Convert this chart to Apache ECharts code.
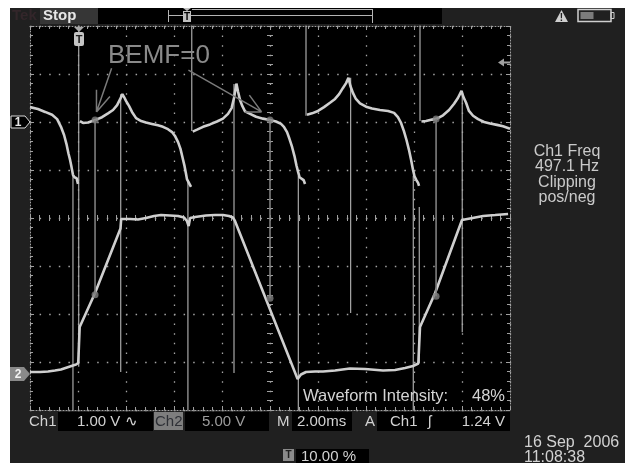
<!DOCTYPE html>
<html><head><meta charset="utf-8">
<script src="https://cdn.jsdelivr.net/npm/echarts@6/dist/echarts.min.js"></script>
<style>html,body{margin:0;padding:0;background:#fff}#c{width:625px;height:463px}</style>
</head><body><div id="c"></div>
<script>
// ---- data (time in ms, Ch1 in V, Ch2 in V, annotations in screen divisions) ----
const ch1Points = [[0.00,0.31],[0.33,0.27],[0.63,0.21],[0.92,0.15],[1.13,0.06],[1.29,-0.10],[1.42,-0.27],[1.52,-0.46],[1.60,-0.65],[1.67,-0.79],[1.73,-0.94],[1.79,-1.10],[1.85,-1.15],[1.94,-1.17],[2.00,-1.29],[2.04,'-'],[2.08,0.02],[2.21,-0.02],[2.42,-0.01],[2.71,0.04],[3.00,0.10],[3.25,0.18],[3.46,0.25],[3.63,0.35],[3.75,0.47],[3.85,0.58],[3.92,0.52],[4.00,0.44],[4.13,0.33],[4.25,0.21],[4.42,0.08],[4.63,0.02],[4.83,-0.01],[5.08,-0.04],[5.33,-0.07],[5.54,-0.10],[5.75,-0.15],[5.92,-0.21],[6.04,-0.29],[6.17,-0.42],[6.27,-0.56],[6.35,-0.73],[6.44,-0.92],[6.50,-1.08],[6.54,-1.19],[6.60,-1.25],[6.67,-1.27],[6.71,-1.35],[6.74,'-'],[6.78,-0.20],[6.96,-0.16],[7.21,-0.10],[7.50,-0.05],[7.79,0.01],[8.04,0.07],[8.25,0.17],[8.40,0.29],[8.50,0.50],[8.60,0.80],[8.67,0.63],[8.75,0.46],[8.85,0.33],[8.96,0.22],[9.17,0.17],[9.42,0.11],[9.71,0.07],[10.00,0.04],[10.25,0.01],[10.46,-0.04],[10.58,-0.10],[10.71,-0.21],[10.81,-0.35],[10.92,-0.52],[11.02,-0.71],[11.10,-0.90],[11.17,-1.04],[11.23,-1.15],[11.31,-1.17],[11.40,-1.21],[11.46,-1.29],[11.50,'-'],[11.54,0.15],[11.75,0.18],[12.00,0.23],[12.25,0.31],[12.50,0.40],[12.71,0.48],[12.88,0.58],[13.04,0.71],[13.17,0.81],[13.27,0.92],[13.35,0.75],[13.46,0.60],[13.58,0.48],[13.75,0.39],[14.00,0.32],[14.25,0.28],[14.58,0.25],[14.92,0.23],[15.17,0.19],[15.33,0.10],[15.46,-0.02],[15.58,-0.19],[15.69,-0.38],[15.79,-0.58],[15.88,-0.79],[15.96,-1.00],[16.02,-1.13],[16.10,-1.21],[16.17,-1.27],[16.21,-1.33],[16.25,'-'],[16.31,0.01],[16.50,0.02],[16.75,0.05],[16.96,0.07],[17.21,0.14],[17.46,0.25],[17.67,0.38],[17.83,0.50],[17.98,0.65],[18.06,0.52],[18.17,0.40],[18.29,0.23],[18.46,0.13],[18.67,0.06],[18.92,0.00],[19.17,-0.03],[19.46,-0.06],[19.71,-0.09],[20.00,-0.14]];
const ch2Points = [[0.00,0.21],[0.42,0.21],[0.75,0.26],[1.04,0.36],[1.29,0.47],[1.54,0.68],[1.79,0.89],[1.92,0.99],[2.01,1.15],[2.07,4.90],[2.15,5.10],[2.71,8.44],[3.77,15.16],[3.80,16.15],[3.88,16.20],[4.17,16.15],[4.50,16.09],[4.83,16.25],[5.17,16.46],[5.46,16.56],[5.83,16.51],[6.17,16.46],[6.42,16.30],[6.54,15.94],[6.61,15.42],[6.67,16.25],[6.88,16.35],[7.33,16.51],[7.71,16.56],[8.04,16.56],[8.29,16.46],[8.46,16.30],[8.54,15.94],[11.15,-0.52],[11.21,-0.42],[11.29,-0.05],[11.50,0.21],[11.88,0.26],[12.21,0.26],[12.71,0.36],[13.33,0.57],[13.96,0.52],[14.71,0.36],[15.21,0.42],[15.63,0.63],[15.96,0.83],[16.18,1.09],[16.25,4.90],[16.33,5.10],[16.88,8.44],[18.00,16.04],[18.08,16.20],[18.33,16.20],[18.88,16.46],[19.38,16.56],[19.92,16.67]];
const spikeTimes   = [1.79, 2.03, 3.78, 6.58, 6.74, 8.50, 11.18, 11.50, 13.36, 15.97, 16.25, 16.22, 18.01];
const spikeTops    = [0.90, 4.50, 2.58, 0.79, 4.50, 2.79, 0.88, 4.50, 2.92, 0.88, 4.50, 0.23, 2.63];
const spikeBottoms = [-4.50, -3.10, -3.21, -4.50, 1.81, -3.23, -4.50, 2.13, -1.98, -4.50, 2.02, -3.02, -2.38];
const cursorTimes   = [2.71, 10.00, 16.92];
const cursorTops    = [2.04, 2.04, 2.06];
const cursorBottoms = [-1.60, -1.67, -1.63];
const arrowSegments = [
  [[3.40,3.12],[2.77,2.21]], [[2.77,2.67],[2.77,2.21]], [[3.33,2.53],[2.77,2.21]],
  [[6.60,3.08],[9.65,2.21]], [[9.14,2.56],[9.65,2.21]], [[8.96,2.21],[9.65,2.21]]
];
const annotationText = 'BEMF=0';
const rightPanelLines = ['Ch1 Freq', '497.1 Hz', 'Clipping', 'pos/neg'];
const intensityLabel = 'Waveform Intensity:';
const intensityValue = '48%';
const ch1Scale = '1.00 V \u223F', ch2Scale = '5.00 V', timeScale = '2.00ms';
const trigSource = 'Ch1', trigSlope = '\u0283', trigLevel = '1.24 V';
const trigPos = '10.00 %', dateText = '16 Sep  2006', timeText = '11:08:38';

// ---- build ----
function segments(times, tops, bottoms) {
  const out = [];
  times.forEach((t, i) => { out.push([t, tops[i]], [t, bottoms[i]], [t, '-']); });
  return out;
}
function pairSegments(list) {
  const out = [];
  list.forEach(s => { out.push(s[0], s[1], [s[1][0], '-']); });
  return out;
}
const F = '"Liberation Sans", Arial, sans-serif';
const GRIDC = '#a4a4a4', TICKC = '#a0a0a0', TXT = '#d2d2d2';

function frameX(pos, extra) {
  return Object.assign({
    type: 'value', min: 0, max: 20, interval: 2, position: pos, gridIndex: 0,
    axisLine: { show: true, onZero: false, lineStyle: { color: TICKC, width: 1, type: [1, 2] } },
    axisTick: { show: true, inside: true, length: 4, lineStyle: { color: TICKC } },
    minorTick: { show: true, splitNumber: 5, length: 3, lineStyle: { color: TICKC } },
    axisLabel: { show: false }, splitLine: { show: false }
  }, extra || {});
}
function frameY(pos, extra) {
  return Object.assign({
    type: 'value', min: -4, max: 4, interval: 1, position: pos, gridIndex: 0,
    axisLine: { show: true, onZero: false, lineStyle: { color: TICKC, width: 1, type: [1, 2] } },
    axisTick: { show: true, inside: true, length: 4, lineStyle: { color: TICKC } },
    minorTick: { show: true, splitNumber: 5, length: 3, lineStyle: { color: TICKC } },
    axisLabel: { show: false }, splitLine: { show: false }
  }, extra || {});
}
const dotted = { show: true, lineStyle: { color: GRIDC, width: 1.3, type: [1.5, 8.1] } };
const noLine = { show: false, onZero: false };

function T(x, y, text, o) {
  o = o || {};
  return { type: 'text', x: x, y: y, z: 100, style: {
    text: text, fill: o.fill || TXT, font: (o.weight || 'normal') + ' ' + (o.size || 15) + 'px ' + F,
    align: o.align || 'left', textAlign: o.align || 'left', verticalAlign: 'middle', textVerticalAlign: 'middle' } };
}
function R(x, y, w, h, fill, z, extra) {
  return Object.assign({ type: 'rect', z: z == null ? 50 : z, shape: { x: x, y: y, width: w, height: h }, style: { fill: fill } }, extra || {});
}
function L(x1, y1, x2, y2, c, w) {
  return { type: 'line', z: 60, shape: { x1: x1, y1: y1, x2: x2, y2: y2 }, style: { stroke: c || '#b4b4b4', lineWidth: w || 1 } };
}

const graphics = [
  R(10, 8, 615, 455, '#202020', -100),
  // top bar
  T(12, 16, 'Tek', { fill: '#33262a', weight: 'bold', size: 15 }),
  R(40, 8, 58, 16, '#363636', 40),
  T(43, 16, 'Stop', { fill: '#e6e6e6', weight: 'bold', size: 15 }),
  R(98, 8, 344, 16, '#000', 40),
  L(168.5, 10, 168.5, 22), L(168, 15.5, 372, 15.5), L(192, 9.5, 372, 9.5), L(372.5, 9, 372.5, 23),
  { type: 'polygon', z: 60, shape: { points: [[183, 8], [191, 8], [187, 11]] }, style: { fill: '#c0c0c0' } },
  R(183, 11, 8, 11, '#c0c0c0', 60),
  T(187, 17, 'T', { fill: '#000', size: 10, weight: 'bold', align: 'center' }),
  { type: 'polygon', z: 60, shape: { points: [[561.5, 10], [555, 22], [568, 22]] }, style: { fill: '#cfcfcf' } },
  T(561.5, 18, '!', { fill: '#202020', size: 10, weight: 'bold', align: 'center' }),
  R(578, 9.5, 33, 12, 'none', 60, { style: { fill: 'none', stroke: '#cfcfcf', lineWidth: 1.5 } }),
  R(580.5, 12, 13, 7, '#7c7c7c', 61),
  R(611, 12.5, 3, 6, 'none', 60, { style: { fill: 'none', stroke: '#cfcfcf', lineWidth: 1 } }),
  // channel markers
  { type: 'polygon', z: 100, shape: { points: [[11, 116], [25, 116], [30, 122], [25, 128], [11, 128]] }, style: { fill: '#000', stroke: '#d8d8d8', lineWidth: 1 } },
  T(18, 122.5, '1', { fill: '#e8e8e8', size: 12, weight: 'bold', align: 'center' }),
  { type: 'polygon', z: 100, shape: { points: [[10, 367], [24, 367], [30, 374], [24, 381], [10, 381]] }, style: { fill: '#8a8a8a' } },
  T(18, 374.5, '2', { fill: '#f2f2f2', size: 12, weight: 'bold', align: 'center' }),
  // trigger position marker (top) and level marker (right)
  { type: 'polygon', z: 100, shape: { points: [[74, 27], [84, 27], [79, 32]] }, style: { fill: '#a8a8a8' } },
  R(74, 32, 10, 14, '#c4c4c4', 100, { shape: { x: 74, y: 32, width: 10, height: 14, r: 2 } }),
  T(79, 39.5, 'T', { fill: '#202020', size: 11, weight: 'bold', align: 'center' }),
  { type: 'polygon', z: 100, shape: { points: [[498, 62.5], [504, 58.5], [504, 66.5]] }, style: { fill: '#a0a0a0' } },
  R(504, 61.5, 6, 2, '#a0a0a0', 100),
  // annotation text
  T(108, 56, annotationText, { fill: '#8a8a8a', size: 26 }),
  // right panel
  T(567, 152, rightPanelLines[0], { size: 16, align: 'center', fill: '#cacaca' }),
  T(567, 167, rightPanelLines[1], { size: 16, align: 'center', fill: '#cacaca' }),
  T(567, 182.5, rightPanelLines[2], { size: 16, align: 'center', fill: '#cacaca' }),
  T(567, 197.5, rightPanelLines[3], { size: 16, align: 'center', fill: '#cacaca' }),
  // intensity
  T(303, 396, intensityLabel, { size: 16.5, fill: '#d4d4d4' }),
  T(505, 396, intensityValue, { size: 16.5, fill: '#d4d4d4', align: 'right' }),
  // bottom bar
  T(29, 421.5, 'Ch1', { size: 15 }),
  R(58, 412, 95, 19, '#000', 40),
  T(77, 421.5, ch1Scale, { size: 15 }),
  R(154, 412, 29, 18, '#7e7e7e', 40),
  T(155, 421.5, 'Ch2', { size: 15, fill: '#2e3036' }),
  R(185, 412, 84, 19, '#000', 40),
  T(202, 421.5, ch2Scale, { size: 15, fill: '#9c9c9c' }),
  T(277, 421.5, 'M', { size: 15 }),
  R(292, 412, 60, 19, '#000', 40),
  T(297, 421.5, timeScale, { size: 15 }),
  T(365, 421.5, 'A', { size: 15 }),
  R(377, 412, 133, 19, '#000', 40),
  T(390, 421.5, trigSource, { size: 15 }),
  T(428, 421.5, trigSlope, { size: 15 }),
  T(505, 421.5, trigLevel, { size: 15, align: 'right' }),
  R(283, 449, 11, 12, '#8a8a8a', 40),
  T(288.5, 455.5, 'T', { size: 10, weight: 'bold', fill: '#202020', align: 'center' }),
  R(296, 449, 73, 14, '#000', 40),
  T(301, 457, trigPos, { size: 15 }),
  T(524, 442.5, dateText, { size: 16 }),
  T(524, 457.5, timeText, { size: 16 })
];

const chart = echarts.init(document.getElementById('c'), null, { renderer: 'canvas' });
chart.setOption({
  animation: false,
  backgroundColor: '#ffffff',
  grid: [{ left: 30, top: 26, width: 480, height: 384, show: true, backgroundColor: '#000', borderWidth: 0 }],
  xAxis: [
    frameX('bottom', { splitLine: dotted }),
    frameX('top'),
    frameX('bottom', { offset: -192, axisLine: noLine, axisTick: { show: true, inside: true, length: 3, lineStyle: { color: TICKC } } }),
    frameX('bottom', { offset: -192, axisLine: noLine, axisTick: { show: true, inside: false, length: 3, lineStyle: { color: TICKC } } })
  ],
  yAxis: [
    { type: 'value', min: -6, max: 2, show: false, gridIndex: 0, axisLine: { onZero: false } },
    { type: 'value', min: -3.75, max: 36.25, show: false, gridIndex: 0, axisLine: { onZero: false } },
    frameY('left', { splitLine: dotted }),
    frameY('right'),
    frameY('left', { offset: -240, axisLine: noLine, axisTick: { show: true, inside: true, length: 3, lineStyle: { color: TICKC } } }),
    frameY('left', { offset: -240, axisLine: noLine, axisTick: { show: true, inside: false, length: 3, lineStyle: { color: TICKC } } })
  ],
  graphic: { elements: graphics },
  series: [
    { name: 'spikes', type: 'line', xAxisIndex: 0, yAxisIndex: 2, data: segments(spikeTimes, spikeTops, spikeBottoms),
      symbol: 'none', clip: true, z: 3, lineStyle: { color: '#a9a9a9', width: 1.2 }, silent: true },
    { name: 'Ch1', type: 'line', xAxisIndex: 0, yAxisIndex: 0, data: ch1Points,
      symbol: 'none', clip: true, z: 4, lineStyle: { color: '#cfcfcf', width: 2.6 }, silent: true },
    { name: 'Ch2', type: 'line', xAxisIndex: 0, yAxisIndex: 1, data: ch2Points,
      symbol: 'none', clip: true, z: 4, lineStyle: { color: '#cfcfcf', width: 2.6 }, silent: true },
    { name: 'cursors', type: 'line', xAxisIndex: 0, yAxisIndex: 2, data: segments(cursorTimes, cursorTops, cursorBottoms),
      symbol: 'none', clip: true, z: 5, lineStyle: { color: '#7e7e7e', width: 1.6 }, silent: true },
    { name: 'cursorDots', type: 'scatter', xAxisIndex: 0, yAxisIndex: 2,
      data: cursorTimes.map((t, i) => [t, cursorTops[i]]).concat(cursorTimes.map((t, i) => [t, cursorBottoms[i]])),
      symbolSize: 7, itemStyle: { color: '#7e7e7e' }, z: 6, silent: true },
    { name: 'arrows', type: 'line', xAxisIndex: 0, yAxisIndex: 2, data: pairSegments(arrowSegments),
      symbol: 'none', clip: true, z: 5, lineStyle: { color: '#7a7a7a', width: 1.5 }, silent: true }
  ]
});
</script></body></html>
